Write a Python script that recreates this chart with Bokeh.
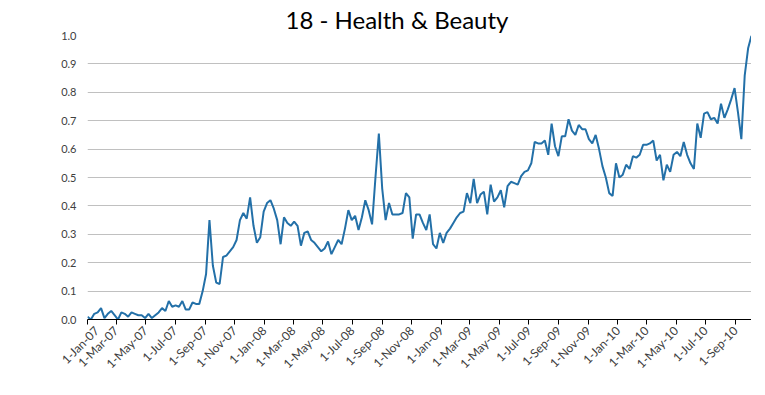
from datetime import datetime, timedelta
from bokeh.plotting import figure
from bokeh.models import Range1d, FixedTicker, ColumnDataSource
from bokeh.embed import file_html
from bokeh.resources import INLINE

title_text = "18 - Health & Beauty"
start_date = "1-Jan-07"
values = [
    0.01, 0.0, 0.02, 0.025, 0.04, 0.005, 0.02, 0.03, 0.015, 0.0,
    0.025, 0.02, 0.01, 0.025, 0.02, 0.015, 0.015, 0.005, 0.02, 0.005,
    0.015, 0.025, 0.04, 0.03, 0.065, 0.045, 0.05, 0.045, 0.065, 0.035,
    0.035, 0.06, 0.055, 0.055, 0.1, 0.16, 0.35, 0.19, 0.13, 0.125,
    0.22, 0.225, 0.24, 0.255, 0.28, 0.35, 0.375, 0.355, 0.43, 0.33,
    0.27, 0.29, 0.38, 0.41, 0.42, 0.39, 0.35, 0.265, 0.36, 0.34,
    0.33, 0.345, 0.33, 0.26, 0.305, 0.31, 0.28, 0.27, 0.255, 0.24,
    0.25, 0.275, 0.23, 0.255, 0.28, 0.265, 0.32, 0.385, 0.35, 0.365,
    0.315, 0.36, 0.42, 0.385, 0.335, 0.5, 0.655, 0.46, 0.35, 0.41,
    0.37, 0.37, 0.37, 0.375, 0.445, 0.43, 0.285, 0.37, 0.37, 0.34,
    0.315, 0.37, 0.265, 0.25, 0.305, 0.27, 0.305, 0.32, 0.34, 0.36,
    0.375, 0.38, 0.445, 0.41, 0.495, 0.41, 0.44, 0.45, 0.37, 0.475,
    0.415, 0.43, 0.455, 0.395, 0.47, 0.485, 0.48, 0.475, 0.505, 0.52,
    0.525, 0.55, 0.625, 0.62, 0.62, 0.63, 0.58, 0.69, 0.61, 0.575,
    0.645, 0.645, 0.705, 0.665, 0.65, 0.685, 0.67, 0.67, 0.635, 0.62,
    0.65, 0.6, 0.54, 0.5, 0.445, 0.435, 0.55, 0.5, 0.51, 0.545,
    0.53, 0.575, 0.57, 0.58, 0.615, 0.615, 0.62, 0.63, 0.56, 0.58,
    0.49, 0.545, 0.52, 0.58, 0.59, 0.575, 0.625, 0.58, 0.55, 0.53,
    0.69, 0.64, 0.725, 0.73, 0.705, 0.71, 0.69, 0.76, 0.71, 0.74,
    0.775, 0.815, 0.73, 0.635, 0.86, 0.955, 1.0,
]
x_tick_labels = [
    "1-Jan-07", "1-Mar-07", "1-May-07", "1-Jul-07", "1-Sep-07", "1-Nov-07",
    "1-Jan-08", "1-Mar-08", "1-May-08", "1-Jul-08", "1-Sep-08", "1-Nov-08",
    "1-Jan-09", "1-Mar-09", "1-May-09", "1-Jul-09", "1-Sep-09", "1-Nov-09",
    "1-Jan-10", "1-Mar-10", "1-May-10", "1-Jul-10", "1-Sep-10",
]
y_ticks = [0.0, 0.1, 0.2, 0.3, 0.4, 0.5, 0.6, 0.7, 0.8, 0.9, 1.0]
y_tick_labels = ["0.0", "0.1", "0.2", "0.3", "0.4", "0.5", "0.6", "0.7", "0.8", "0.9", "1.0"]

EPOCH = datetime(1970, 1, 1)
def to_ms(d):
    return (d - EPOCH).total_seconds() * 1000.0

start = datetime.strptime(start_date, "%d-%b-%y")
dates = [start + timedelta(weeks=i) for i in range(len(values))]
src = ColumnDataSource(dict(x=dates, y=values))

tick_ms = [to_ms(datetime.strptime(s, "%d-%b-%y")) for s in x_tick_labels]

p = figure(
    x_axis_type="datetime",
    width=693, height=379,
    min_border_left=10, min_border_right=0, min_border_top=5, min_border_bottom=5,
    output_backend="svg", toolbar_location=None,
    x_range=Range1d(dates[0], dates[-1]),
    y_range=Range1d(0, 1.0),
)
p.margin = (0, 0, 0, 58)
p.outline_line_color = None
p.background_fill_color = "white"
p.border_fill_color = "white"

p.title.text = title_text
p.title.align = "left"
p.title.offset = 198
p.title.text_font = "Lato"
p.title.text_font_size = "24px"
p.title.text_font_style = "normal"
p.title.text_color = "#000000"
p.title.standoff = 4

p.line("x", "y", source=src, line_color="#2370a8", line_width=2)

xa = p.xaxis[0]
xa.ticker = FixedTicker(ticks=tick_ms)
xa.major_label_overrides = {t: s for t, s in zip(tick_ms, x_tick_labels)}
xa.major_label_orientation = 0.785398
xa.major_label_text_font = "Lato"
xa.major_label_text_font_size = "12px"
xa.major_label_text_color = "#404040"
xa.major_label_standoff = 4
xa.axis_line_color = "#000000"
xa.major_tick_line_color = "#000000"
xa.major_tick_out = 5
xa.major_tick_in = 0
xa.minor_tick_line_color = None

ya = p.yaxis[0]
ya.ticker = FixedTicker(ticks=y_ticks)
ya.major_label_overrides = {t: s for t, s in zip(y_ticks, y_tick_labels)}
ya.major_label_text_font = "Lato"
ya.major_label_text_font_size = "11px"
ya.major_label_text_color = "#404040"
ya.axis_line_color = None
ya.major_tick_line_color = None
ya.minor_tick_line_color = None
ya.major_tick_out = 6
ya.major_label_standoff = 5

p.xgrid.grid_line_color = None
p.ygrid.grid_line_color = "#c0c0c0"
p.ygrid.grid_line_width = 1

open("out.html", "w").write(file_html(p, INLINE))
